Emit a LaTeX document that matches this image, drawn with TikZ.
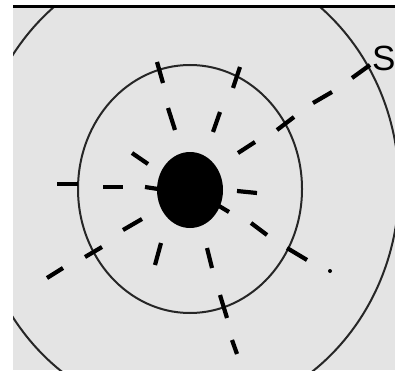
\documentclass[tikz,border=0pt]{standalone}
\usepackage{fontspec}
\setmainfont{Liberation Sans}
\definecolor{bg}{RGB}{228,228,228}
\begin{document}
\begin{tikzpicture}[x=1pt,y=-1pt,
  tick/.style={line width=4.2pt,line cap=butt,black},
  ring/.style={line width=2pt,black!85}]
\useasboundingbox (0,0) rectangle (395,374);
\fill[white] (0,0) rectangle (395,374);
\fill[bg] (13,7) rectangle (395,370);
\begin{scope}
\clip (13,7) rectangle (395,370);
\draw[ring] (187,186) ellipse [x radius=212, y radius=230];
\end{scope}
\node[anchor=base west,inner sep=0pt,font=\fontsize{35}{38}\selectfont] (s) at (372,71) {S};
\draw[line width=3pt] (13,7) -- (395,7);
\draw[ring] (190,189) ellipse [x radius=112, y radius=124];
\fill (190,190) ellipse [x radius=33, y radius=38];
% inner ticks
\draw[tick] (168,108) -- (175,130);
\draw[tick] (220,112) -- (213,132);
\draw[tick] (255,142) -- (238,153);
\draw[tick] (132,153) -- (148,164);
\draw[tick] (103,187) -- (123,187);
\draw[tick] (145,187) -- (158,189);
\draw[tick] (237,191) -- (257,193);
\draw[tick] (251,223) -- (267,235);
\draw[tick] (123,230) -- (142,219);
\draw[tick] (161,243) -- (155,265);
\draw[tick] (207,248) -- (212,268);
\draw[tick] (219,206) -- (229,212);
% crosses on inner ellipse
\draw[tick] (157,62) -- (163,83);
\draw[tick] (240,67) -- (233,88);
\draw[tick] (277,130) -- (294,117);
\draw[tick] (57,184) -- (78,184);
\draw[tick] (85,257) -- (102,247);
\draw[tick] (220,295) -- (227,318);
\draw[tick] (287,248) -- (307,260);
% outer ticks
\draw[tick] (352,78) -- (370,65);
\draw[tick] (313,103) -- (332,92);
\draw[tick] (47,278) -- (63,268);
\draw[tick] (232,340) -- (237,354);
\fill (330,271) circle (2);
\end{tikzpicture}
\end{document}
